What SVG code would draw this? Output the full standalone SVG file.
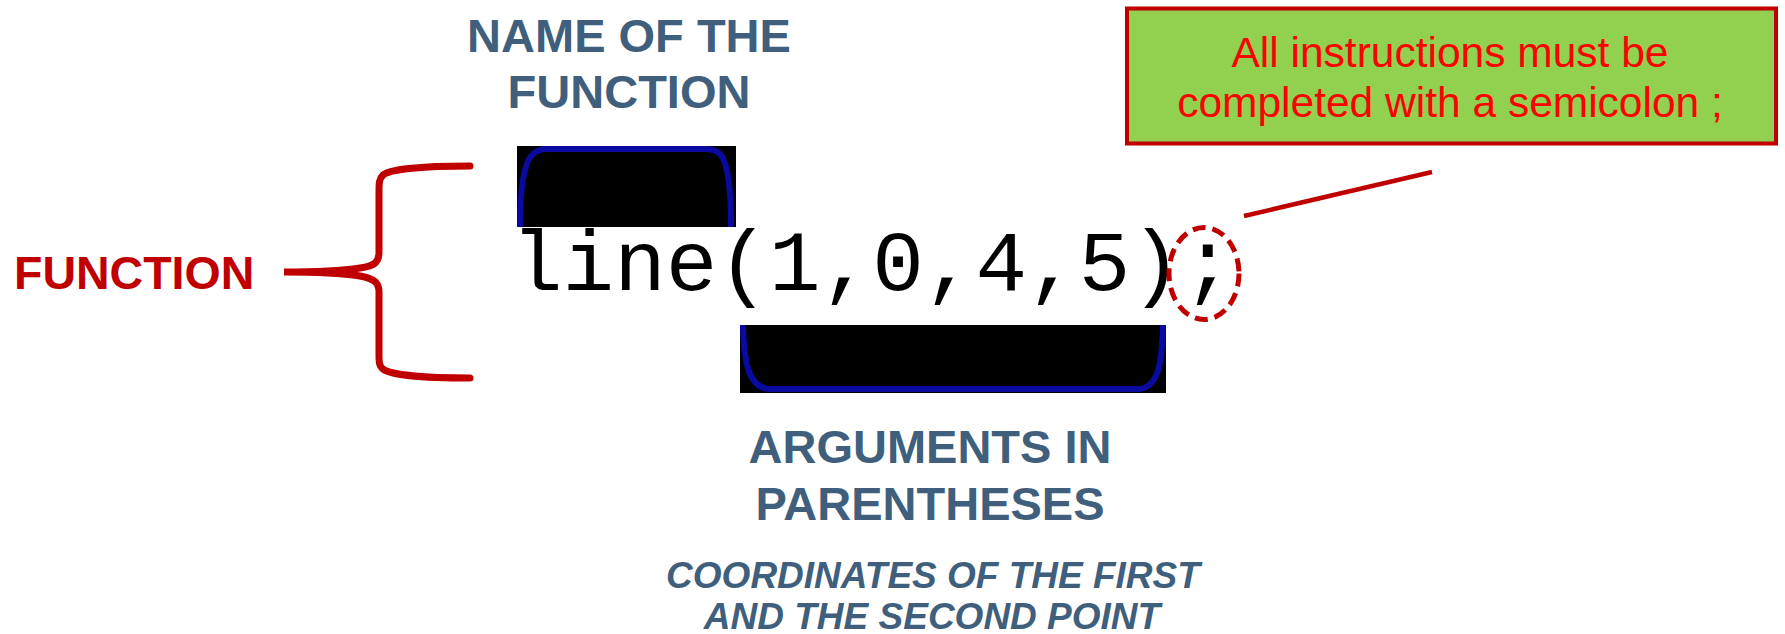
<svg xmlns="http://www.w3.org/2000/svg" width="1785" height="634" viewBox="0 0 1785 634">
<style>
.lbl{font-family:"Liberation Sans",Arial,sans-serif;font-weight:bold;fill:#3F5F7C;text-anchor:middle}
.blue{fill:none;stroke:#0A0AA0;stroke-width:6;stroke-linecap:butt}
.red{fill:none;stroke:#C00000;stroke-linecap:round}
</style>
<rect width="1785" height="634" fill="#ffffff"/>
<g id="function-label">
<text x="14" y="289" font-family="Liberation Sans, Arial, sans-serif" font-weight="bold" font-size="46.5" fill="#C00000">FUNCTION</text>
</g>
<g id="name-label">
<text class="lbl" x="629" y="52" font-size="47">NAME OF THE</text>
<text class="lbl" x="629" y="108" font-size="47">FUNCTION</text>
</g>
<g id="name-bracket">
<rect x="517" y="146" width="219" height="81" fill="#000000"/>
<path class="blue" d="M520,227 C520,190 524,162 533,154 Q538,149 548,149 L705,149 Q715,149 720,154 C728,162 731,190 731,227"/>
</g>
<g id="args-bracket">
<rect x="740" y="325" width="426" height="68" fill="#000000"/>
<path class="blue" d="M743,325 C744,362 748,386 768,389 L1140,389 C1159,386 1162,362 1163,325"/>
</g>
<g id="code">
<text x="511" y="290" font-family="Liberation Mono, Courier New, monospace" font-size="86" fill="#000000">line(1,0,4,5);</text>
</g>
<g id="args-label">
<text class="lbl" x="930" y="463" font-size="47">ARGUMENTS IN</text>
<text class="lbl" x="930" y="520" font-size="47">PARENTHESES</text>
<text class="lbl" x="933" y="588" font-size="37" font-style="italic">COORDINATES OF THE FIRST</text>
<text class="lbl" x="932" y="629" font-size="37" font-style="italic">AND THE SECOND POINT</text>
</g>
<g id="note">
<rect x="1127" y="8.5" width="649" height="135" fill="#92D050" stroke="#C00000" stroke-width="4"/>
<text x="1450" y="66.5" font-family="Liberation Sans, Arial, sans-serif" font-size="42.5" fill="#FF0000" text-anchor="middle">All instructions must be</text>
<text x="1450" y="116.5" font-family="Liberation Sans, Arial, sans-serif" font-size="42.5" fill="#FF0000" text-anchor="middle">completed with a semicolon ;</text>
</g>
<g id="connectors">
<path class="red" stroke-width="7" d="M470,166 C425,166 390,169 383,175 C379,179 379,183 379,192 L379,252 C379,262 375,266 360,268 C340,271 305,272 284,272 C305,272 340,273 360,276 C375,279 379,283 379,292 L379,354 C379,362 379,366 383,369 C390,375 425,378 470,378"/>
<ellipse cx="1204" cy="273.5" rx="35" ry="46" fill="none" stroke="#C00000" stroke-width="5" stroke-dasharray="13,7"/>
<line x1="1244" y1="216" x2="1432" y2="172" stroke="#C00000" stroke-width="4.5"/>
</g>
</svg>
